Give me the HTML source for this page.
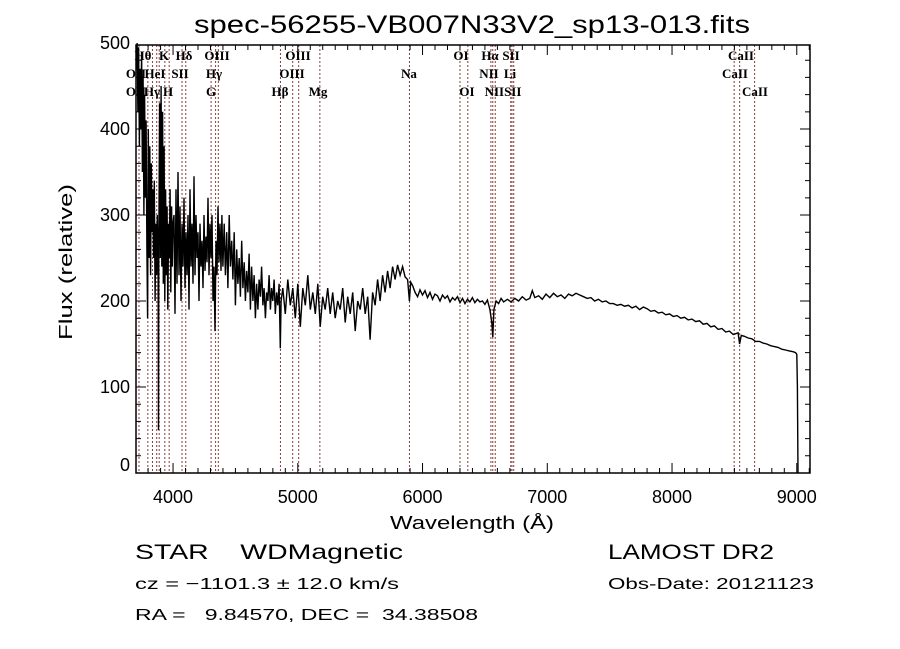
<!DOCTYPE html>
<html><head><meta charset="utf-8"><style>
html,body{margin:0;padding:0;background:#fff;}
svg{display:block;}
text{font-family:"Liberation Sans",sans-serif;fill:#000;white-space:pre;}
.ser{font-family:"Liberation Serif",serif;font-weight:bold;font-size:13px;}
</style></head><body>
<svg id="chart" width="900" height="649" viewBox="0 0 900 649" xml:space="preserve">
<text x="472" y="33" font-size="25" text-anchor="middle" textLength="556" lengthAdjust="spacingAndGlyphs">spec-56255-VB007N33V2_sp13-013.fits</text>
<text x="472" y="529" font-size="18" text-anchor="middle" textLength="164" lengthAdjust="spacingAndGlyphs">Wavelength (Å)</text>
<text transform="translate(72,262) rotate(-90)" font-size="18" text-anchor="middle" textLength="156" lengthAdjust="spacingAndGlyphs">Flux (relative)</text>
<text x="135" y="559" font-size="21" textLength="268" lengthAdjust="spacingAndGlyphs">STAR    WDMagnetic</text>
<text x="608" y="559" font-size="21" textLength="166" lengthAdjust="spacingAndGlyphs">LAMOST DR2</text>
<text x="135" y="589" font-size="16" textLength="264" lengthAdjust="spacingAndGlyphs">cz = −1101.3 ± 12.0 km/s</text>
<text x="608" y="589" font-size="16" textLength="206" lengthAdjust="spacingAndGlyphs">Obs-Date: 20121123</text>
<text x="135" y="620" font-size="16" textLength="343" lengthAdjust="spacingAndGlyphs">RA =   9.84570, DEC =  34.38508</text>
<g id="plot"></g>
</svg>
<script>
const wl=[3705,3712,3718,3724,3730,3736,3742,3748,3754,3760,3766,3772,3778,3784,3790,3796,3802,3808,3814,3820,3826,3832,3838,3844,3850,3856,3862,3868,3874,3880,3883,3886,3892,3898,3904,3910,3916,3922,3928,3934,3940,3946,3952,3958,3964,3970,3976,3982,3988,3994,4000,
4008,4016,4024,4032,4040,4048,4056,4064,4072,4080,4088,4096,4104,4112,4120,4128,4136,4144,4152,4160,4168,4176,4184,4192,4200,4208,4216,4224,4232,4240,4248,4256,4264,4272,4280,4288,4296,4304,4312,4320,4328,4336,4344,4352,4360,4368,4376,4384,4392,4400,
4410,4420,4430,4440,4450,4460,4470,4480,4490,4500,4510,4520,4530,4540,4550,4560,4570,4580,4590,4600,4610,4620,4630,4640,4650,4660,4670,4680,4690,4700,4710,4720,4730,4740,4750,4760,4770,4780,4790,4800,4810,4820,4830,4840,4850,4860,4866,
4880,4900,4920,4940,4960,4980,5000,5020,5040,5060,5080,5100,5120,5140,5160,5180,5200,5220,5240,5260,5280,5300,5320,5340,5360,5380,5400,5420,5440,5460,5480,5500,5520,5540,5560,5580,5600,5620,5640,5660,5680,5700,
5720,5740,5760,5780,5800,5820,5840,5860,5880,5895,5905,5920,
5940,5960,5980,6000,6020,6040,6060,6080,6100,6120,6140,6160,6180,6200,6220,6240,6260,6280,6300,6320,6340,6360,6380,6400,6420,6440,6460,6480,6500,6520,6540,6555,6563,6572,6590,6610,6630,6650,
6680,6710,6740,6770,6800,6830,6860,6880,6900,6930,6960,6990,7020,7050,7080,7110,7140,7170,7200,7230,7260,7290,7320,7350,7380,7410,7440,7470,7500,
7530,7560,7590,7620,7650,7680,7710,7740,7770,7800,7830,7860,7890,7920,7950,7980,8010,8040,8070,8100,8130,8160,8190,8220,8250,8280,8310,8340,8370,8400,8430,8460,8490,8510,8530,8542,8555,8580,8610,8640,8670,8700,8730,8760,8790,8820,8850,8880,8910,8940,8970,8990,9000,9005,9010];
const flux=[470,500,420,495,380,470,400,490,350,460,300,440,320,410,260,180,400,250,380,230,360,280,330,250,340,200,290,230,300,240,50,260,430,250,450,240,420,220,380,200,330,230,310,190,290,250,330,210,310,240,290,
300,185,330,220,350,230,310,200,290,240,320,215,280,230,300,190,330,240,290,220,345,230,300,250,280,200,290,240,270,215,300,235,275,245,320,230,290,250,300,200,240,165,270,230,310,245,290,235,300,240,
290,230,280,215,300,240,270,225,280,195,260,220,250,205,270,215,245,200,235,210,255,190,240,200,230,180,220,190,225,205,240,195,215,180,210,200,230,190,215,200,225,185,210,195,220,145,200,
215,185,225,195,215,180,220,170,215,195,230,190,210,185,220,170,205,190,215,185,210,180,200,190,215,175,205,185,210,165,200,190,215,185,205,155,210,195,225,200,230,210,
235,215,240,225,242,230,240,228,225,200,222,218,
210,205,213,207,212,204,210,202,208,206,200,207,203,206,199,204,201,205,198,203,197,202,199,204,198,202,199,200,196,201,190,175,158,190,200,197,203,199,
202,199,203,200,205,201,203,212,204,206,202,208,204,209,205,207,203,208,206,209,207,205,203,204,200,202,199,200,197,
197,195,196,194,195,192,194,190,193,191,188,189,186,187,184,185,182,183,180,181,178,179,176,177,173,174,170,171,167,168,164,165,161,162,163,150,160,159,157,156,153,153,151,150,148,147,146,144,143,142,141,140,138,100,0];
const lineWaves=[3727,3798,3835,3869,3889,3934,3969,4072,4102,4305,4341,4363,4861,4959,5007,5177,5895,6300,6363,6548,6563,6583,6707,6717,6731,8498,8542,8662];
const lineLabels=[["Hθ",143,60],["K",164,60],["Hδ",184,60],["OIII",217,60],["OIII",298,60],["OI",461,60],["Hα",490,60],["SII",511,60],["CaII",741,60],
["OII",136,78],["HeI",155,78],["SII",180,78],["Hγ",214,78],["OIII",292,78],["Na",409,78],["NII",489,78],["Li",510,78],["CaII",735,78],
["OII",136,96],["Hγ",152,96],["H",168,96],["G",211,96],["Hβ",280,96],["Mg",318,96],["OI",467,96],["NIISII",503,96],["CaII",755,96]];
const xTicks=[4000,5000,6000,7000,8000,9000];
const yTicks=[0,100,200,300,400,500];

const X0=136,X1=810,Y0=45,Y1=473,WMIN=3703,WMAX=9106,FMAX=497.7;
const xs=w=>X0+(w-WMIN)*(X1-X0)/(WMAX-WMIN);
const ys=f=>Y1-f*(Y1-Y0)/FMAX;
const NS='http://www.w3.org/2000/svg';
const g=document.getElementById('plot');
function mk(t,a){const e=document.createElementNS(NS,t);for(const k in a)e.setAttribute(k,a[k]);g.appendChild(e);return e;}

lineWaves.forEach(w=>{
 const e=mk('line',{x1:xs(w),x2:xs(w),y1:Y0,y2:Y1,stroke:'#8a3c3c','stroke-width':1,'stroke-dasharray':'2,2'});
 
 
});
lineLabels.forEach(l=>{
 const t=mk('text',{x:l[1],y:l[2],'text-anchor':'middle',class:'ser'});t.textContent=l[0];
 
 
});
let d='';
for(let i=0;i<wl.length;i++){d+=(i?'L':'M')+xs(wl[i]).toFixed(1)+','+ys(flux[i]).toFixed(1);}
const p=mk('path',{d:d,fill:'none',stroke:'#000','stroke-width':1.4,'stroke-linejoin':'miter'});



const fr=mk('rect',{x:X0,y:Y0,width:X1-X0,height:Y1-Y0,fill:'none',stroke:'#000','stroke-width':1.5});


let td='';
for(let w=3800;w<=9100;w+=100){const x=xs(w);const L=(w%1000===0)?10:5;td+=`M${x},${Y1}v${-L}M${x},${Y0}v${L}`;}
for(let f=0;f<=FMAX;f+=20){const y=ys(f);const L=(f%100===0)?10:5;td+=`M${X0},${y}h${L}M${X1},${y}h${-L}`;}
const tk=mk('path',{d:td,stroke:'#000','stroke-width':1,fill:'none'});


xTicks.forEach(w=>{
 const t=mk('text',{x:xs(w),y:503,'text-anchor':'middle','font-size':18});t.textContent=w;
 
 
});
yTicks.forEach(f=>{
 const t=mk('text',{x:130,y:ys(f)+(f===0?-2:6),'text-anchor':'end','font-size':18});t.textContent=f;
 
 
});
</script>
</body></html>
